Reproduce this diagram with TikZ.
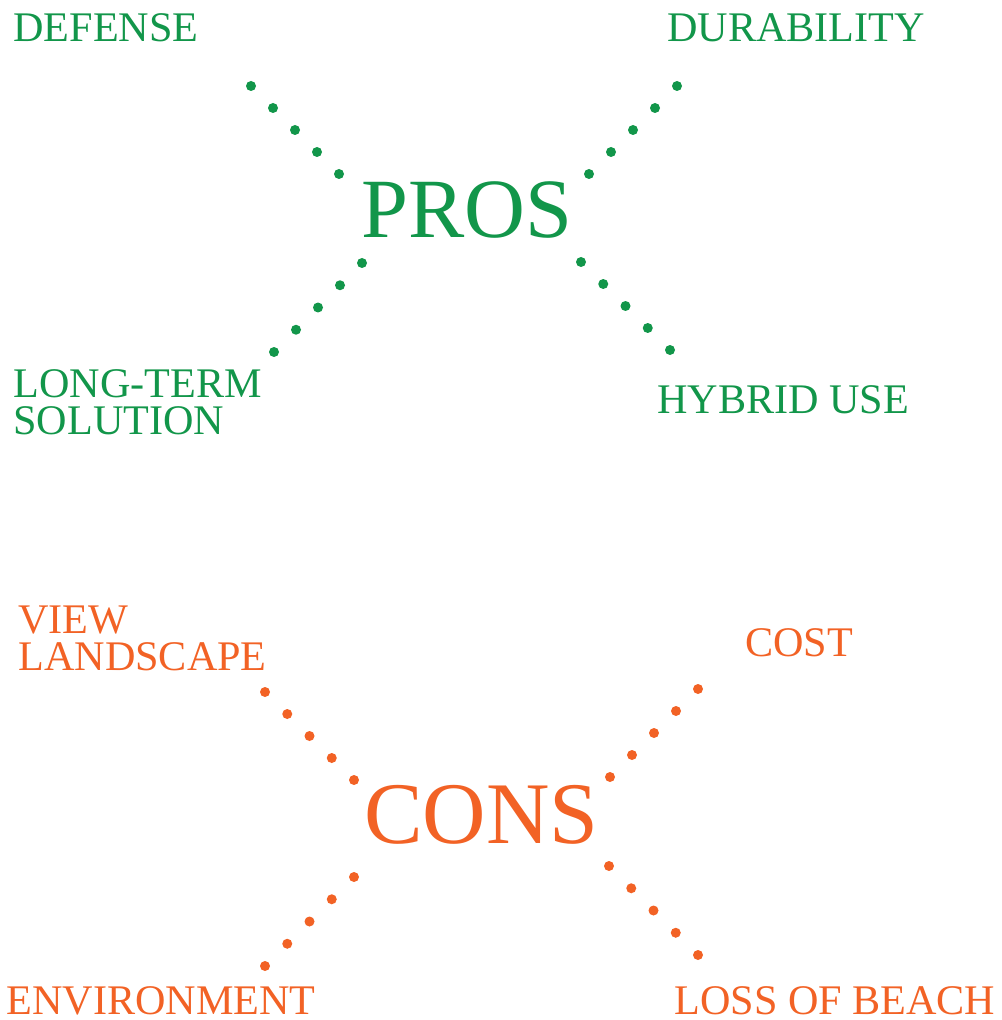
\documentclass[tikz,border=0pt]{standalone}
\usepackage{fontspec}
\setmainfont{Liberation Serif}
\usepackage{xcolor}
\usetikzlibrary{calc}
\definecolor{prosgreen}{RGB}{18,150,74}
\definecolor{consorange}{RGB}{242,98,37}
\begin{document}
\begin{tikzpicture}[x=0.02cm,y=-0.02cm,
  lbl/.style={anchor=base west,inner sep=0pt,text depth=0pt,align=left,font=\fontsize{24}{21}\selectfont},
  big/.style={anchor=base west,inner sep=0pt,text depth=0pt}]
\useasboundingbox (0,0) rectangle (1001,1020);
% pros
\draw (361,238) node[big,prosgreen,font=\fontsize{48}{48}\selectfont](pros) {PROS};
\draw (13,41.7) node[lbl,prosgreen](defense) {DEFENSE};
\draw (667,41.7) node[lbl,prosgreen](durability) {DURABILITY};
\draw (13,434.3) node[lbl,prosgreen](longterm) {LONG-TERM\\SOLUTION};
\draw (657,413.3) node[lbl,prosgreen](hybrid) {HYBRID USE};
\coordinate (pa1) at (251,86);  \coordinate (pa2) at (339,174);
\coordinate (pb1) at (677,86);  \coordinate (pb2) at (589,174);
\coordinate (pc1) at (274,352); \coordinate (pc2) at (362,263);
\coordinate (pd1) at (670,350); \coordinate (pd2) at (581,262);
\foreach \a/\b in {pa1/pa2,pb1/pb2,pc1/pc2,pd1/pd2}
  \foreach \i in {0,...,4}
    \fill[prosgreen] ($(\a)!\i/4!(\b)$) circle (0.1cm);
% cons
\draw (364,843) node[big,consorange,font=\fontsize{50}{50}\selectfont](cons) {CONS};
\draw (18,670) node[lbl,consorange](view) {VIEW\\LANDSCAPE};
\draw (745,656.7) node[lbl,consorange](cost) {COST};
\draw (6,1014) node[lbl,consorange](environment) {ENVIRONMENT};
\draw (674,1014) node[lbl,consorange](beach) {LOSS OF BEACH};
\coordinate (ca1) at (265,692); \coordinate (ca2) at (354,780);
\coordinate (cb1) at (698,689); \coordinate (cb2) at (610,777);
\coordinate (cc1) at (265,966); \coordinate (cc2) at (354,877);
\coordinate (cd1) at (698,955); \coordinate (cd2) at (609,866);
\foreach \a/\b in {ca1/ca2,cb1/cb2,cc1/cc2,cd1/cd2}
  \foreach \i in {0,...,4}
    \fill[consorange] ($(\a)!\i/4!(\b)$) circle (0.1cm);
\end{tikzpicture}
\end{document}
